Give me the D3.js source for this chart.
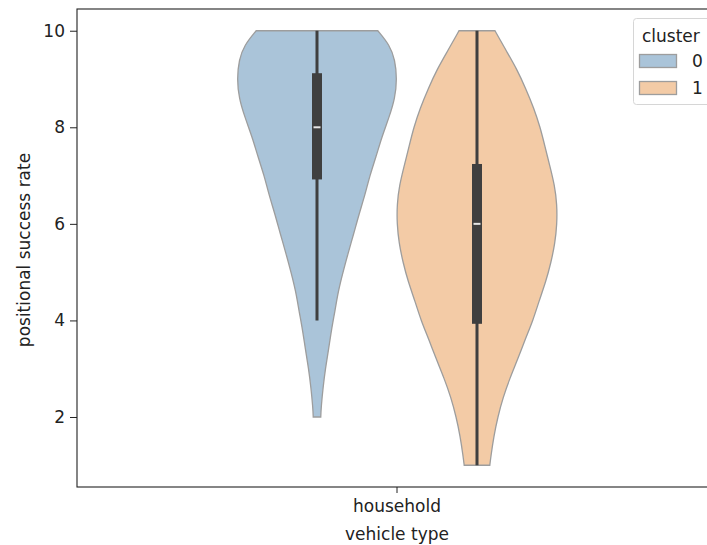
<!DOCTYPE html>
<html>
<head>
<meta charset="utf-8">
<script src="https://cdn.jsdelivr.net/npm/d3@7"></script>
<style>
  html, body { margin: 0; padding: 0; background: #fff; }
  svg { display: block; font-family: "DejaVu Sans", sans-serif; }
</style>
</head>
<body>
<svg id="chart" width="707" height="545"></svg>
<script>
// Category and hue levels
const categories = ["household"];
const clusters = ["0", "1"];
const yTicks = [2, 4, 6, 8, 10];

// Kernel density outline per cluster: [value, relative half-width]
const density0 = [
  [10.0, 0.76], [9.7, 0.91], [9.4, 0.975], [9.0, 1.0], [8.6, 0.975], [8.2, 0.90],
  [7.8, 0.81], [7.4, 0.74], [7.0, 0.66], [6.6, 0.60], [6.2, 0.525], [5.8, 0.46],
  [5.4, 0.39], [5.0, 0.325], [4.6, 0.265], [4.2, 0.225], [3.8, 0.18], [3.4, 0.145],
  [3.0, 0.105], [2.6, 0.075], [2.2, 0.052], [2.0, 0.047]
];
const density1 = [
  [10.0, 0.225], [9.6, 0.36], [9.2, 0.50], [8.8, 0.61], [8.4, 0.71], [8.0, 0.79],
  [7.6, 0.85], [7.2, 0.91], [6.8, 0.97], [6.4, 1.0], [6.0, 1.0], [5.6, 0.975],
  [5.2, 0.925], [4.8, 0.86], [4.4, 0.775], [4.0, 0.70], [3.6, 0.60], [3.2, 0.51],
  [2.8, 0.41], [2.4, 0.325], [2.0, 0.26], [1.6, 0.21], [1.2, 0.175], [1.0, 0.16]
];

// Box summaries per cluster
const whiskerLow = [4, 1];
const whiskerHigh = [10, 10];
const q1 = [6.92, 3.93];
const q3 = [9.12, 7.24];
const medians = [8, 6];

const fills = ["#aac4d9", "#f3cba6"];
const fontSize = "17px";

const svg = d3.select("#chart");
const margin = { left: 77, top: 9, right: 717, bottom: 487 };

const y = d3.scaleLinear().domain([0.55, 10.45]).range([margin.bottom, margin.top]);
const x = d3.scaleBand().domain(categories).range([margin.left, margin.right]);
const hue = d3.scaleBand().domain(clusters)
  .range([-x.bandwidth() * 0.25, x.bandwidth() * 0.25]);
const w = d3.scaleLinear().domain([0, 1]).range([0, hue.bandwidth() / 2]);

const densities = [density0, density1];

// Violins
clusters.forEach((c, i) => {
  const cx = x(categories[0]) + x.bandwidth() / 2 + hue(c) + hue.bandwidth() / 2;
  const area = d3.area()
    .y(d => y(d[0]))
    .x0(d => cx - w(d[1]))
    .x1(d => cx + w(d[1]))
    .curve(d3.curveBasis);
  svg.append("path")
    .datum(densities[i])
    .attr("d", area)
    .attr("fill", fills[i])
    .attr("stroke", "#9d9d9d")
    .attr("stroke-width", 1.3);

  // Whisker
  svg.append("line")
    .attr("x1", cx).attr("x2", cx)
    .attr("y1", y(whiskerLow[i])).attr("y2", y(whiskerHigh[i]))
    .attr("stroke", "#3f3f3f").attr("stroke-width", 3);
  // Interquartile box
  svg.append("rect")
    .attr("x", cx - 5).attr("width", 10)
    .attr("y", y(q3[i])).attr("height", y(q1[i]) - y(q3[i]))
    .attr("fill", "#3f3f3f");
  // Median
  svg.append("line")
    .attr("x1", cx - 3.5).attr("x2", cx + 3.5)
    .attr("y1", y(medians[i])).attr("y2", y(medians[i]))
    .attr("stroke", "#e6e6e6").attr("stroke-width", 2);
});

// Axes
const yAxis = d3.axisLeft(y).tickValues(yTicks).tickSize(7).tickPadding(5);
const gy = svg.append("g").attr("transform", `translate(${margin.left},0)`).call(yAxis);
const xAxis = d3.axisBottom(x).tickSize(6).tickPadding(5);
const gx = svg.append("g").attr("transform", `translate(0,${margin.bottom})`).call(xAxis);
[gx, gy].forEach(g => {
  g.select(".domain").remove();
  g.selectAll("line").attr("stroke", "#222").attr("stroke-width", 1);
  g.selectAll("text").attr("fill", "#222").style("font-size", fontSize)
    .style("font-family", "DejaVu Sans, sans-serif");
});
gx.selectAll("text").attr("dy", "0.85em");

// Frame
svg.append("rect")
  .attr("x", margin.left).attr("y", margin.top)
  .attr("width", margin.right - margin.left).attr("height", margin.bottom - margin.top)
  .attr("fill", "none").attr("stroke", "#222").attr("stroke-width", 1.1);

// Axis titles
svg.append("text")
  .attr("x", x(categories[0]) + x.bandwidth() / 2).attr("y", 540)
  .attr("text-anchor", "middle").attr("fill", "#222").style("font-size", fontSize)
  .text("vehicle type");
svg.append("text")
  .attr("transform", `translate(30,${(margin.top + margin.bottom) / 2 + 2}) rotate(-90)`)
  .attr("text-anchor", "middle").attr("fill", "#222").style("font-size", fontSize)
  .text("positional success rate");

// Legend
const lg = svg.append("g");
lg.append("rect")
  .attr("x", 633.5).attr("y", 18.5).attr("width", 90).attr("height", 86)
  .attr("rx", 3).attr("fill", "#fff").attr("fill-opacity", 0.8)
  .attr("stroke", "#d6d6d6");
lg.append("text").attr("x", 642).attr("y", 41.5)
  .attr("fill", "#222").style("font-size", fontSize).text("cluster");
clusters.forEach((c, i) => {
  const ly = 54.5 + i * 27;
  lg.append("rect")
    .attr("x", 639.5).attr("y", ly).attr("width", 37).attr("height", 13)
    .attr("fill", fills[i]).attr("stroke", "#9d9d9d").attr("stroke-width", 1.3);
  lg.append("text").attr("x", 692).attr("y", ly + 12.5)
    .attr("fill", "#222").style("font-size", fontSize).text(c);
});
</script>
</body>
</html>
